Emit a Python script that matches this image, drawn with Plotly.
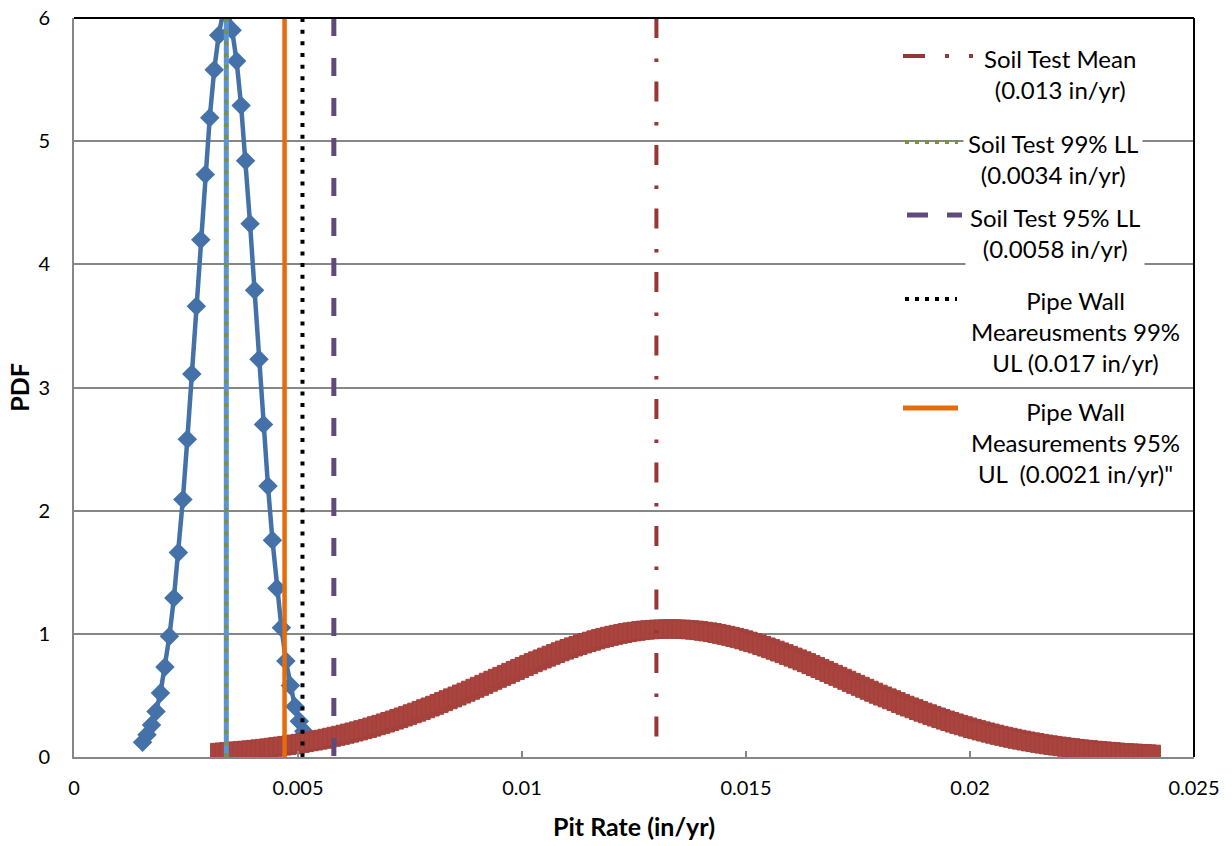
import plotly.graph_objects as go

# ---------------- data ----------------
pipe_x = [0.00153, 0.00163, 0.00173, 0.00183, 0.00193, 0.00203, 0.00213, 0.00223, 0.00233, 0.00243,
          0.00253, 0.00263, 0.00273, 0.00283, 0.00293, 0.00303, 0.00313, 0.00323, 0.00333, 0.00343,
          0.00353, 0.00363, 0.00373, 0.00383, 0.00393, 0.00403, 0.00413, 0.00423, 0.00433, 0.00443,
          0.00453, 0.00463, 0.00473, 0.00483, 0.00493, 0.00503, 0.00513]
pipe_pdf = [0.12, 0.18, 0.26, 0.37, 0.52, 0.73, 0.98, 1.29, 1.66, 2.09,
            2.58, 3.11, 3.66, 4.20, 4.73, 5.19, 5.58, 5.86, 6.05, 6.06,
            5.90, 5.65, 5.29, 4.84, 4.33, 3.79, 3.23, 2.70, 2.20, 1.76,
            1.37, 1.05, 0.78, 0.58, 0.41, 0.29, 0.21]

soil_x = [0.00325, 0.00335, 0.00345, 0.00355, 0.00365, 0.00375, 0.00385, 0.00395, 0.00405, 0.00415,
          0.00425, 0.00435, 0.00445, 0.00455, 0.00465, 0.00475, 0.00485, 0.00495, 0.00505, 0.00515,
          0.00525, 0.00535, 0.00545, 0.00555, 0.00565, 0.00575, 0.00585, 0.00595, 0.00605, 0.00615,
          0.00625, 0.00635, 0.00645, 0.00655, 0.00665, 0.00675, 0.00685, 0.00695, 0.00705, 0.00715,
          0.00725, 0.00735, 0.00745, 0.00755, 0.00765, 0.00775, 0.00785, 0.00795, 0.00805, 0.00815,
          0.00825, 0.00835, 0.00845, 0.00855, 0.00865, 0.00875, 0.00885, 0.00895, 0.00905, 0.00915,
          0.00925, 0.00935, 0.00945, 0.00955, 0.00965, 0.00975, 0.00985, 0.00995, 0.01005, 0.01015,
          0.01025, 0.01035, 0.01045, 0.01055, 0.01065, 0.01075, 0.01085, 0.01095, 0.01105, 0.01115,
          0.01125, 0.01135, 0.01145, 0.01155, 0.01165, 0.01175, 0.01185, 0.01195, 0.01205, 0.01215,
          0.01225, 0.01235, 0.01245, 0.01255, 0.01265, 0.01275, 0.01285, 0.01295, 0.01305, 0.01315,
          0.01325, 0.01335, 0.01345, 0.01355, 0.01365, 0.01375, 0.01385, 0.01395, 0.01405, 0.01415,
          0.01425, 0.01435, 0.01445, 0.01455, 0.01465, 0.01475, 0.01485, 0.01495, 0.01505, 0.01515,
          0.01525, 0.01535, 0.01545, 0.01555, 0.01565, 0.01575, 0.01585, 0.01595, 0.01605, 0.01615,
          0.01625, 0.01635, 0.01645, 0.01655, 0.01665, 0.01675, 0.01685, 0.01695, 0.01705, 0.01715,
          0.01725, 0.01735, 0.01745, 0.01755, 0.01765, 0.01775, 0.01785, 0.01795, 0.01805, 0.01815,
          0.01825, 0.01835, 0.01845, 0.01855, 0.01865, 0.01875, 0.01885, 0.01895, 0.01905, 0.01915,
          0.01925, 0.01935, 0.01945, 0.01955, 0.01965, 0.01975, 0.01985, 0.01995, 0.02005, 0.02015,
          0.02025, 0.02035, 0.02045, 0.02055, 0.02065, 0.02075, 0.02085, 0.02095, 0.02105, 0.02115,
          0.02125, 0.02135, 0.02145, 0.02155, 0.02165, 0.02175, 0.02185, 0.02195, 0.02205, 0.02215,
          0.02225, 0.02235, 0.02245, 0.02255, 0.02265, 0.02275, 0.02285, 0.02295, 0.02305, 0.02315,
          0.02325, 0.02335, 0.02345, 0.02355, 0.02365, 0.02375, 0.02385, 0.02395, 0.02405]
soil_pdf = [0.038, 0.040, 0.043, 0.046, 0.049, 0.052, 0.055, 0.058, 0.062, 0.066,
            0.070, 0.074, 0.079, 0.084, 0.089, 0.094, 0.099, 0.105, 0.111, 0.117,
            0.124, 0.130, 0.137, 0.144, 0.152, 0.160, 0.168, 0.176, 0.185, 0.194,
            0.203, 0.212, 0.222, 0.232, 0.243, 0.254, 0.265, 0.276, 0.288, 0.300,
            0.312, 0.325, 0.338, 0.351, 0.364, 0.378, 0.392, 0.406, 0.420, 0.435,
            0.450, 0.465, 0.480, 0.495, 0.511, 0.526, 0.542, 0.558, 0.574, 0.590,
            0.607, 0.623, 0.639, 0.655, 0.671, 0.687, 0.703, 0.719, 0.735, 0.750,
            0.766, 0.781, 0.796, 0.811, 0.826, 0.840, 0.854, 0.868, 0.881, 0.894,
            0.906, 0.918, 0.929, 0.940, 0.951, 0.961, 0.971, 0.980, 0.988, 0.996,
            1.003, 1.010, 1.016, 1.021, 1.026, 1.030, 1.033, 1.036, 1.038, 1.039,
            1.040, 1.040, 1.039, 1.038, 1.036, 1.033, 1.030, 1.026, 1.021, 1.016,
            1.010, 1.003, 0.996, 0.988, 0.980, 0.971, 0.961, 0.951, 0.940, 0.929,
            0.918, 0.906, 0.893, 0.880, 0.867, 0.853, 0.839, 0.825, 0.811, 0.796,
            0.781, 0.766, 0.750, 0.735, 0.719, 0.703, 0.687, 0.671, 0.655, 0.639,
            0.623, 0.606, 0.590, 0.574, 0.558, 0.542, 0.526, 0.510, 0.495, 0.480,
            0.465, 0.450, 0.435, 0.420, 0.406, 0.392, 0.378, 0.364, 0.351, 0.338,
            0.325, 0.312, 0.300, 0.288, 0.276, 0.265, 0.254, 0.243, 0.232, 0.222,
            0.212, 0.203, 0.194, 0.185, 0.176, 0.168, 0.160, 0.152, 0.144, 0.137,
            0.130, 0.123, 0.117, 0.111, 0.105, 0.099, 0.094, 0.089, 0.084, 0.079,
            0.075, 0.070, 0.066, 0.062, 0.059, 0.055, 0.052, 0.049, 0.046, 0.043,
            0.040, 0.037, 0.035, 0.033, 0.031, 0.029, 0.027, 0.025, 0.023]

# reference lines (x positions) and their legend labels
ref_names = ["Soil Test Mean<br>(0.013 in/yr)",
             "Soil Test 99% LL<br>(0.0034 in/yr)",
             "Soil Test 95% LL<br>(0.0058 in/yr)",
             "Pipe Wall<br>Meareusments 99%<br>UL (0.017 in/yr)",
             "Pipe Wall<br>Measurements 95%<br>UL  (0.0021 in/yr)\""]
ref_x = [0.0130, 0.0034, 0.0058, 0.0051, 0.0047]
y_span = [6, 0]

x_ticks = [0, 0.005, 0.01, 0.015, 0.02, 0.025]
x_tick_text = ["0", "0.005", "0.01", "0.015", "0.02", "0.025"]
y_ticks = [0, 1, 2, 3, 4, 5, 6]

# ---------------- styling ----------------
FONT = "Lato"
W, H = 1232, 846
L, R, T, B = 74, 1194, 18, 757


def px(xp):
    return (xp - L) / (R - L)


def py(yp):
    return (B - yp) / (B - T)


ref_styles = [
    dict(color="#953735", width=4, dash="20px,20.5px,3.5px,19.5px"),
    dict(color="#77933C", width=4, dash="4px,7.67px"),
    dict(color="#604A7B", width=5, dash="18px,22px"),
    dict(color="#000000", width=4, dash="4px,7.67px"),
    dict(color="#E46C0A", width=4.5, dash="solid"),
]
legend_styles = [
    dict(color="#953735", width=4, dash="22px,20px,4px,20px,4px,20px"),
    dict(color="#77933C", width=4, dash="4px,6px"),
    dict(color="#604A7B", width=5, dash="21px,19px"),
    dict(color="#000000", width=4, dash="4px,6px"),
    dict(color="#E46C0A", width=5, dash="solid"),
]

fig = go.Figure()

# pipe wall PDF (blue diamonds)
fig.add_trace(go.Scatter(
    x=pipe_x, y=pipe_pdf, mode="lines+markers", name="Pipe Wall PDF",
    line=dict(color="#4472A8", width=4.5),
    marker=dict(symbol="diamond", size=15, color="#4472A8"),
    showlegend=False, cliponaxis=True))

# soil test PDF (dense red squares)
fig.add_trace(go.Scatter(
    x=soil_x, y=soil_pdf, mode="markers", name="Soil Test PDF",
    marker=dict(symbol="square", size=18, color="#A9443F",
                line=dict(color="#A3403C", width=1)),
    showlegend=False))

# light-blue line under the green dotted 99% LL line
fig.add_trace(go.Scatter(
    x=[ref_x[1], ref_x[1]], y=y_span, mode="lines",
    line=dict(color="#5B93D8", width=5), showlegend=False, hoverinfo="skip"))

# vertical reference lines
for order in [2, 3, 4, 1, 0]:
    fig.add_trace(go.Scatter(
        x=[ref_x[order], ref_x[order]], y=y_span, mode="lines",
        name=ref_names[order].replace("<br>", " "),
        line=ref_styles[order], showlegend=False))

# ---------------- hand-built legend (centred multi-line labels) ----------------
legend_sample_px = [(903, 977, 56), (905, 958, 142), (907, 962, 215),
                    (905, 957, 299), (903, 958, 408)]
legend_text_px = [(1060, 74), (1053, 159), (1055, 232.5), (1075, 332), (1075, 443)]

shapes = []
annotations = []
for i in range(5):
    x0, x1, yy = legend_sample_px[i]
    shapes.append(dict(type="line", xref="paper", yref="paper",
                       x0=px(x0), x1=px(x1), y0=py(yy), y1=py(yy),
                       line=legend_styles[i], layer="above"))
    cx, cy = legend_text_px[i]
    annotations.append(dict(xref="paper", yref="paper", x=px(cx), y=py(cy),
                            xanchor="center", yanchor="middle", align="center",
                            text=ref_names[i], showarrow=False,
                            bgcolor="white", borderpad=4,
                            font=dict(family=FONT, size=24, color="black")))

# black plot-area border on the top and right
shapes.append(dict(type="line", xref="paper", yref="paper", x0=0, x1=1, y0=1, y1=1,
                   line=dict(color="black", width=2), layer="above"))
shapes.append(dict(type="line", xref="paper", yref="paper", x0=1, x1=1, y0=0, y1=1,
                   line=dict(color="black", width=2), layer="above"))

fig.update_layout(
    width=W, height=H,
    margin=dict(l=L, r=W - R, t=T, b=H - B, pad=0, autoexpand=False),
    paper_bgcolor="white", plot_bgcolor="white",
    font=dict(family=FONT, size=20, color="black"),
    showlegend=False,
    shapes=shapes, annotations=annotations,
    xaxis=dict(range=[0, 0.025], tickvals=x_ticks, ticktext=x_tick_text,
               automargin=False,
               showgrid=False, zeroline=False,
               showline=True, linecolor="#868686", linewidth=2,
               ticks="inside", ticklen=6, tickwidth=1.5, tickcolor="#868686",
               ticklabelstandoff=12,
               tickfont=dict(family=FONT, size=20, color="black"),
               title=dict(text="<b>Pit Rate (in/yr)</b>", standoff=20,
                          font=dict(family=FONT, size=25, color="black"))),
    yaxis=dict(range=[0, 6], tickvals=y_ticks,
               automargin=False,
               showgrid=True, gridcolor="#868686", gridwidth=1.5,
               zeroline=False,
               showline=True, linecolor="#868686", linewidth=2,
               ticks="", ticklabelstandoff=18,
               tickfont=dict(family=FONT, size=20, color="black"),
               title=dict(text="<b>PDF</b>", standoff=2,
                          font=dict(family=FONT, size=25, color="black"))),
)

fig.write_html("out.html", config={"displayModeBar": False},
               post_script="document.body.style.margin='0';document.body.style.overflow='hidden';")
